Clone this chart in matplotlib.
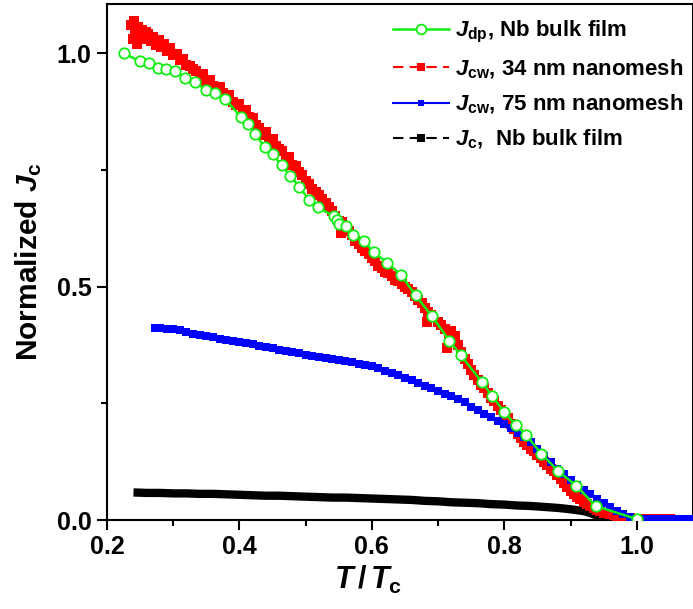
import matplotlib
matplotlib.use("Agg")
import matplotlib.pyplot as plt
from matplotlib.lines import Line2D
from matplotlib.ticker import MultipleLocator

plt.rcParams["font.family"] = ["Liberation Sans", "DejaVu Sans"]
plt.rcParams["font.weight"] = "bold"
plt.rcParams["axes.labelweight"] = "bold"
plt.rcParams["mathtext.fontset"] = "custom"
plt.rcParams["mathtext.rm"] = "Liberation Sans:bold"
plt.rcParams["mathtext.it"] = "Liberation Sans:italic:bold"
plt.rcParams["mathtext.bf"] = "Liberation Sans:bold"

# J_dp, Nb bulk film (green, open circles)
t_dp = [0.226, 0.250, 0.264, 0.277, 0.289, 0.302, 0.318, 0.333, 0.350, 0.363, 0.378,
        0.403, 0.413, 0.424, 0.438, 0.450, 0.464, 0.477, 0.490, 0.505, 0.518, 0.543,
        0.548, 0.551, 0.561, 0.571, 0.588, 0.603, 0.623, 0.644, 0.666, 0.691, 0.717,
        0.734, 0.766, 0.782, 0.800, 0.817, 0.833, 0.856, 0.881, 0.909, 0.938, 1.000]
j_dp = [0.999, 0.982, 0.979, 0.969, 0.966, 0.962, 0.947, 0.937, 0.921, 0.914, 0.902,
        0.862, 0.848, 0.826, 0.799, 0.783, 0.760, 0.737, 0.714, 0.686, 0.670, 0.650,
        0.643, 0.634, 0.629, 0.610, 0.598, 0.573, 0.551, 0.525, 0.481, 0.436, 0.384,
        0.353, 0.296, 0.265, 0.231, 0.204, 0.182, 0.142, 0.105, 0.073, 0.030, 0.002]

# J_cw, 34 nm nanomesh (red)
t_34 = [0.237, 0.239, 0.241, 0.243, 0.245, 0.247, 0.250, 0.253, 0.256, 0.259, 0.262,
        0.266, 0.270, 0.274, 0.278, 0.282, 0.286, 0.290, 0.295, 0.300, 0.305, 0.310,
        0.315, 0.320, 0.325, 0.330, 0.335, 0.340, 0.345, 0.350, 0.355, 0.360, 0.365,
        0.370, 0.375, 0.380, 0.385, 0.390, 0.395, 0.400, 0.405, 0.410, 0.415, 0.420,
        0.425, 0.430, 0.435, 0.440, 0.445, 0.450, 0.455, 0.460, 0.465, 0.470, 0.475,
        0.480, 0.485, 0.490, 0.495, 0.500, 0.505, 0.510, 0.515, 0.520, 0.525, 0.530,
        0.535, 0.540, 0.545, 0.550, 0.553, 0.555, 0.560, 0.565, 0.570, 0.575, 0.580,
        0.585, 0.590, 0.595, 0.600, 0.605, 0.610, 0.615, 0.620, 0.625, 0.630, 0.635,
        0.640, 0.645, 0.650, 0.655, 0.660, 0.665, 0.670, 0.675, 0.680, 0.683, 0.685,
        0.690, 0.700, 0.705, 0.710, 0.713, 0.716, 0.720, 0.725, 0.730, 0.735, 0.740,
        0.745, 0.750, 0.755, 0.760, 0.765, 0.770, 0.775, 0.780, 0.785, 0.790, 0.795,
        0.800, 0.805, 0.810, 0.815, 0.820, 0.825, 0.830, 0.835, 0.840, 0.845, 0.850,
        0.855, 0.860, 0.865, 0.870, 0.875, 0.880, 0.885, 0.890, 0.895, 0.900, 0.905,
        0.910, 0.915, 0.920, 0.925, 0.930, 0.935, 0.940, 0.945, 0.950, 0.955, 0.960,
        0.965, 0.970, 0.975, 0.980, 0.985, 0.990, 1.000, 1.010, 1.020, 1.030, 1.040,
        1.050]
j_34 = [1.060, 1.030, 1.068, 1.045, 1.020, 1.055, 1.038, 1.050, 1.030, 1.045, 1.040,
        1.025, 1.035, 1.018, 1.028, 1.012, 1.020, 1.005, 1.010, 0.995, 0.998, 0.985,
        0.988, 0.975, 0.972, 0.965, 0.962, 0.950, 0.955, 0.940, 0.942, 0.930, 0.925,
        0.928, 0.915, 0.905, 0.910, 0.895, 0.888, 0.890, 0.872, 0.878, 0.862, 0.860,
        0.845, 0.840, 0.825, 0.830, 0.812, 0.815, 0.800, 0.795, 0.790, 0.775, 0.778,
        0.760, 0.758, 0.745, 0.738, 0.725, 0.720, 0.708, 0.702, 0.695, 0.688, 0.678,
        0.670, 0.662, 0.650, 0.640, 0.615, 0.638, 0.628, 0.618, 0.610, 0.598, 0.590,
        0.582, 0.575, 0.570, 0.560, 0.555, 0.545, 0.540, 0.532, 0.528, 0.522, 0.515,
        0.512, 0.505, 0.500, 0.495, 0.488, 0.480, 0.472, 0.465, 0.455, 0.425, 0.445,
        0.440, 0.425, 0.418, 0.408, 0.368, 0.400, 0.405, 0.395, 0.375, 0.360, 0.345,
        0.335, 0.322, 0.310, 0.300, 0.290, 0.282, 0.272, 0.262, 0.255, 0.245, 0.235,
        0.225, 0.218, 0.205, 0.195, 0.185, 0.175, 0.168, 0.160, 0.152, 0.147, 0.140,
        0.132, 0.125, 0.118, 0.110, 0.104, 0.096, 0.088, 0.080, 0.070, 0.062, 0.055,
        0.050, 0.044, 0.038, 0.034, 0.029, 0.025, 0.022, 0.019, 0.016, 0.014, 0.012,
        0.010, 0.008, 0.006, 0.005, 0.004, 0.004, 0.003, 0.003, 0.003, 0.003, 0.003,
        0.003]

# J_cw, 75 nm nanomesh (blue)
t_75 = [0.272, 0.28, 0.29, 0.30, 0.31, 0.32, 0.33, 0.34, 0.35, 0.36, 0.37, 0.38, 0.39,
        0.40, 0.41, 0.42, 0.43, 0.44, 0.45, 0.46, 0.47, 0.48, 0.49, 0.50, 0.51, 0.52,
        0.53, 0.54, 0.55, 0.56, 0.57, 0.58, 0.59, 0.60, 0.61, 0.62, 0.63, 0.64, 0.65,
        0.66, 0.67, 0.68, 0.69, 0.70, 0.71, 0.72, 0.73, 0.74, 0.75, 0.76, 0.77, 0.78,
        0.79, 0.80, 0.81, 0.82, 0.83, 0.84, 0.85, 0.86, 0.87, 0.88, 0.89, 0.90, 0.91,
        0.92, 0.93, 0.94, 0.95, 0.96, 0.97, 0.98, 0.99, 1.00, 1.01, 1.02, 1.03, 1.04,
        1.05, 1.06, 1.07, 1.08]
j_75 = [0.412, 0.411, 0.409, 0.408, 0.406, 0.403, 0.399, 0.396, 0.393, 0.391, 0.388,
        0.386, 0.383, 0.381, 0.378, 0.376, 0.373, 0.370, 0.368, 0.365, 0.362, 0.359,
        0.357, 0.354, 0.352, 0.350, 0.347, 0.345, 0.343, 0.341, 0.338, 0.335, 0.332,
        0.329, 0.325, 0.320, 0.315, 0.310, 0.304, 0.299, 0.294, 0.288, 0.282, 0.276,
        0.270, 0.265, 0.260, 0.252, 0.243, 0.235, 0.228, 0.221, 0.213, 0.205, 0.196,
        0.187, 0.177, 0.166, 0.152, 0.137, 0.124, 0.110, 0.098, 0.086, 0.074, 0.065,
        0.055, 0.045, 0.036, 0.027, 0.019, 0.012, 0.006, 0.003, 0.002, 0.002, 0.002,
        0.002, 0.002, 0.002, 0.002, 0.002]

# J_c, Nb bulk film (black)
t_c = [0.24, 0.26, 0.28, 0.30, 0.32, 0.34, 0.36, 0.38, 0.40, 0.42, 0.44, 0.46, 0.48,
       0.50, 0.52, 0.54, 0.56, 0.58, 0.60, 0.62, 0.64, 0.66, 0.68, 0.70, 0.72, 0.74,
       0.76, 0.78, 0.80, 0.82, 0.84, 0.86, 0.88, 0.90, 0.92, 0.93, 0.94, 0.95, 0.96,
       0.97, 0.98, 1.00, 1.01]
j_c = [0.059, 0.058, 0.058, 0.057, 0.057, 0.056, 0.056, 0.055, 0.054, 0.053, 0.052,
       0.052, 0.051, 0.050, 0.049, 0.048, 0.048, 0.047, 0.046, 0.045, 0.044, 0.043,
       0.041, 0.040, 0.038, 0.037, 0.036, 0.034, 0.033, 0.031, 0.030, 0.028, 0.026,
       0.023, 0.019, 0.015, 0.009, 0.006, 0.004, 0.002, 0.001, 0.000, 0.000]

GREEN = "#11ee11"
RED = "#ff0000"
BLUE = "#0000ff"

fig = plt.figure(figsize=(6.93, 6.09), dpi=100)
ax = fig.add_axes([107 / 693, 1 - 520 / 609, 586 / 693, 516 / 609])

ax.plot(t_c, j_c, color="black", lw=6, solid_capstyle="butt", zorder=2)
ax.plot(t_34, j_34, ls="none", marker="s", ms=7.5, mew=0, color=RED, zorder=3)
ax.plot(t_75, j_75, ls="-", lw=1.5, marker="s", ms=5.5, mew=0, color=BLUE, zorder=4)
ax.plot(t_dp, j_dp, ls="-", lw=1.8, marker="o", ms=7.5, mfc="white", mec=GREEN,
        mew=1.3, color=GREEN, zorder=5)

ax.set_xlim(0.2, 1.085)
ax.set_ylim(0, 1.105)
ax.xaxis.set_major_locator(MultipleLocator(0.2))
ax.xaxis.set_minor_locator(MultipleLocator(0.1))
ax.yaxis.set_major_locator(MultipleLocator(0.5))
ax.yaxis.set_minor_locator(MultipleLocator(0.25))
ax.tick_params(which="both", direction="out", width=1.5, labelsize=18, pad=4)
ax.tick_params(which="major", length=7)
ax.tick_params(which="minor", length=4)
ax.set_xticklabels([f"{v:.1f}" for v in ax.get_xticks()], fontweight="bold")
ax.set_yticklabels([f"{v:.1f}" for v in ax.get_yticks()], fontweight="bold")
for s in ax.spines.values():
    s.set_linewidth(1.5)

ax.set_xlabel(r"$T\,/\,T_{\mathrm{c}}$", fontsize=22)
ax.xaxis.set_label_coords((368 - 107) / 586, -0.085)
ax.set_ylabel(r"Normalized $J_{\mathrm{c}}$", fontsize=21.5, fontweight="bold", labelpad=9)

handles = [
    Line2D([], [], color=GREEN, lw=1.8, marker="o", ms=7, mfc="white", mec=GREEN, mew=1.3),
    Line2D([], [], color=RED, lw=1.5, ls=(0, (5, 3)), marker="s", ms=6, mew=0),
    Line2D([], [], color=BLUE, lw=1.5, marker="s", ms=5, mew=0),
    Line2D([], [], color="black", lw=1.5, ls=(0, (5, 3)), marker="s", ms=6, mew=0),
]
labels = [
    r"$J_{\mathrm{dp}}$, Nb bulk film",
    r"$J_{\mathrm{cw}}$, 34 nm nanomesh",
    r"$J_{\mathrm{cw}}$, 75 nm nanomesh",
    r"$J_{\mathrm{c}}$,  Nb bulk film",
]
ax.legend(handles, labels, loc="upper left", bbox_to_anchor=((393 - 107) / 586, 1 - 15 / 516),
          frameon=False, fontsize=16, handlelength=2.5, handletextpad=0.3,
          labelspacing=0.55, borderpad=0, borderaxespad=0, numpoints=1)

fig.savefig("out.png", dpi=100)
